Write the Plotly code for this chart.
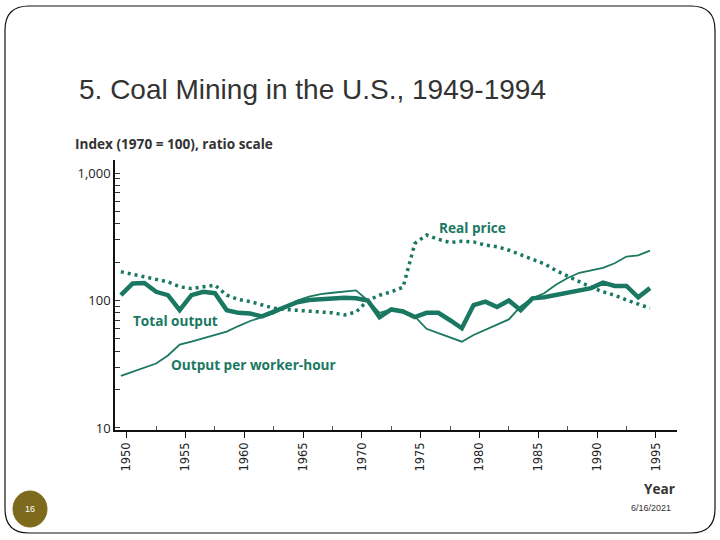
import plotly.graph_objects as go

# ---------------- data ----------------
years = list(range(1949, 1995))

total_output = [110, 136, 137, 117, 110, 84, 110, 117, 114, 84,
                80, 79, 75, 82, 89, 97, 101, 103, 105, 105,
                104, 100, 74, 85, 82, 74, 80, 80, 70, 60.5,
                92, 98, 89, 100, 84, 104, 106, 110, 115, 119,
                125, 138, 130, 130, 106, 125]

output_per_hour = [25.6, 27.7, 30, 32, 37, 45, 47.5, 50.5, 53, 57,
                   63, 69, 74, 79, 89, 100, 107, 112, 115, 117,
                   120, 100, 80, 85, 81, 75, 60, 55.5, 51.5, 47.5,
                   53.6, 59, 65, 71, 90, 104, 114, 133, 150, 165,
                   172, 180, 196, 221, 226, 246]

real_price = [168, 161, 154, 147, 140, 128, 124, 128, 132, 110,
              102, 98, 92, 87, 85, 84, 83, 82, 80, 77,
              81, 100, 110, 117, 127, 280, 326, 302, 285, 292,
              288, 272, 264, 248, 228, 208, 194, 172, 155, 139,
              127, 117, 110, 101, 94, 87]

x_ticks = [1950, 1955, 1960, 1965, 1970, 1975, 1980, 1985, 1990, 1995]
x_minor = [1952.5, 1957.5, 1962.5, 1967.5, 1972.5, 1977.5, 1982.5, 1987.5, 1992.5]
y_ticks = [10, 20, 30, 40, 50, 60, 70, 80, 90,
           100, 200, 300, 400, 500, 600, 700, 800, 900, 1000]
y_labels = {10: "10", 100: "100", 1000: "1,000"}

TEAL = "#1a7862"
# annual values plotted at mid-year
xpos = [y + 0.5 for y in years]

fig = go.Figure()
fig.add_trace(go.Scatter(x=xpos, y=output_per_hour, mode="lines",
                         line=dict(color=TEAL, width=1.8), name="Output per worker-hour"))
fig.add_trace(go.Scatter(x=xpos, y=total_output, mode="lines",
                         line=dict(color=TEAL, width=4.5), name="Total output"))
fig.add_trace(go.Scatter(x=xpos, y=real_price, mode="lines",
                         line=dict(color=TEAL, width=3.5, dash="3px,4px"), name="Real price"))

# plot area in pixels
L, R, T, B = 115, 677, 160, 430
W, H = R - L, B - T


def px(xp, yp):
    return (xp - L) / W, (B - yp) / H


def P(a, b):
    u, v = px(a, b)
    return f"{u:.5f},{v:.5f}"


shapes = []
# slide border (rounded rectangle)
x0, y0, x1, y1, r = 5, 6, 715, 533, 24
path = (f"M {P(x0 + r, y0)} L {P(x1 - r, y0)} Q {P(x1, y0)} {P(x1, y0 + r)} "
        f"L {P(x1, y1 - r)} Q {P(x1, y1)} {P(x1 - r, y1)} "
        f"L {P(x0 + r, y1)} Q {P(x0, y1)} {P(x0, y1 - r)} "
        f"L {P(x0, y0 + r)} Q {P(x0, y0)} {P(x0 + r, y0)} Z")
shapes.append(dict(type="path", xref="paper", yref="paper", path=path,
                   line=dict(color="#111111", width=1.2), layer="below"))
# page-number disc
cx0, cy0 = px(13, 491)
cx1, cy1 = px(47, 527)
shapes.append(dict(type="circle", xref="paper", yref="paper",
                   x0=cx0, y0=cy1, x1=cx1, y1=cy0,
                   fillcolor="#7d6a1c", line=dict(color="#7d6a1c", width=1)))

annotations = []


def ann(text, xp, yp, size, color, bold=False, xanchor="left", family="Open Sans"):
    u, v = px(xp, yp)
    annotations.append(dict(text=f"<b>{text}</b>" if bold else text,
                            x=u, y=v, xref="paper", yref="paper",
                            xanchor=xanchor, yanchor="middle", showarrow=False,
                            font=dict(family=family, size=size, color=color)))


ann("Index (1970 = 100), ratio scale", 73, 144, 13.6, "#333333", bold=True)
ann("Real price", 437, 227, 13.6, TEAL, bold=True)
ann("Total output", 131, 320, 13.6, TEAL, bold=True)
ann("Output per worker-hour", 169, 364, 13.6, TEAL, bold=True)
ann("Year", 677, 488, 13.6, "#333333", bold=True, xanchor="right")
ann("16", 30, 509, 9, "white", xanchor="center", family="Liberation Sans")
ann("6/16/2021", 651, 508, 9, "#333333", xanchor="center", family="Liberation Sans")

fig.update_layout(
    width=720, height=540,
    margin=dict(l=L, r=720 - R, t=T, b=540 - B),
    paper_bgcolor="white", plot_bgcolor="white",
    showlegend=False,
    title=dict(text="5. Coal Mining in the U.S., 1949-1994",
               x=79 / 720, y=1 - 89 / 540, xanchor="left", yanchor="middle",
               xref="container", yref="container",
               font=dict(family="Liberation Sans", size=28, color="#333333")),
    shapes=shapes,
    annotations=annotations,
)

fig.update_xaxes(range=[1949.0, 1996.8], showgrid=False, zeroline=False,
                 showline=True, linecolor="#111111", linewidth=1.5,
                 tickmode="array", tickvals=x_ticks, ticktext=[str(v) for v in x_ticks],
                 ticks="outside", ticklen=6, tickcolor="#111111", tickwidth=1.2,
                 tickangle=-90, tickfont=dict(family="DejaVu Sans", size=11.5, color="#222222"),
                 minor=dict(tickmode="array", tickvals=x_minor, ticks="inside",
                            ticklen=4, tickcolor="#555555", tickwidth=1))

fig.update_yaxes(type="log", range=[0.984, 3.102], showgrid=False, zeroline=False,
                 showline=True, linecolor="#111111", linewidth=1.5,
                 tickmode="array", tickvals=y_ticks,
                 ticktext=[y_labels.get(v, "") for v in y_ticks],
                 ticks="inside", ticklen=5, tickcolor="#333333", tickwidth=1,
                 tickfont=dict(family="Open Sans", size=13, color="#222222"))

fig.write_html("out.html",
               config={"displayModeBar": False},
               post_script="document.body.style.margin='0';document.body.style.overflow='hidden';")
